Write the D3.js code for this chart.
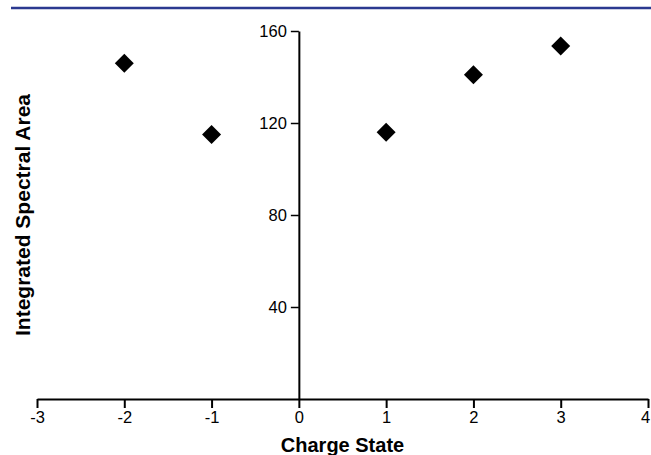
<!DOCTYPE html>
<html>
<head>
<meta charset="utf-8">
<script src="https://cdn.jsdelivr.net/npm/d3@7"></script>
<style>
  body { margin: 0; background: #fff; }
  svg { display: block; font-family: "Liberation Sans", Arial, sans-serif; }
</style>
</head>
<body>
<script>
// data
const charges = [-2, -1, 1, 2, 3];
const areas = [146, 115, 116, 141, 153.5];
const xTicks = [-3, -2, -1, 0, 1, 2, 3, 4];
const yTicks = [40, 80, 120, 160];

const width = 651, height = 455;

const svg = d3.select("body")
  .append("svg")
  .attr("width", width)
  .attr("height", height);

// header rule
svg.append("line")
  .attr("x1", 11).attr("x2", width)
  .attr("y1", 8).attr("y2", 8)
  .attr("stroke", "#2b3990")
  .attr("stroke-width", 2.5);

const x = d3.scaleLinear().domain([-3, 4]).range([37, 648]);
const y = d3.scaleLinear().domain([0, 160]).range([399, 31]);

// x axis
const xAxis = svg.append("g")
  .attr("transform", `translate(0,${y(0)})`)
  .call(d3.axisBottom(x).tickValues(xTicks).tickFormat(d => String(d))
    .tickSize(9).tickPadding(3).tickSizeOuter(0));
xAxis.select(".domain").attr("stroke-width", 2);
xAxis.selectAll(".tick line").attr("stroke-width", 2);
xAxis.selectAll("text").attr("font-size", 16.5).attr("fill", "#000");
// keep the last label inside the frame
xAxis.selectAll(".tick text").filter(d => d === 4).attr("dx", -3);

// y axis sits at charge 0
const yAxis = svg.append("g")
  .attr("transform", `translate(${x(0)},0)`)
  .call(d3.axisLeft(y).tickValues(yTicks).tickFormat(d => String(d))
    .tickSize(8).tickPadding(4).tickSizeOuter(0));
yAxis.select(".domain").attr("stroke-width", 2);
yAxis.selectAll(".tick line").attr("stroke-width", 1.5);
yAxis.selectAll("text").attr("font-size", 16.5).attr("fill", "#000");

// markers
svg.selectAll("path.pt")
  .data(charges.map((c, i) => [c, areas[i]]))
  .enter()
  .append("path")
  .attr("class", "pt")
  .attr("d", d3.symbol().type(d3.symbolDiamond2).size(230))
  .attr("transform", d => `translate(${x(d[0])},${y(d[1])})`)
  .attr("fill", "#000");

// axis titles
svg.append("text")
  .attr("x", (x(-3) + x(4)) / 2)
  .attr("y", 452)
  .attr("text-anchor", "middle")
  .attr("font-size", 20)
  .attr("font-weight", "bold")
  .text("Charge State");

svg.append("text")
  .attr("transform", `translate(30,${(y(0) + y(160)) / 2}) rotate(-90)`)
  .attr("text-anchor", "middle")
  .attr("font-size", 21)
  .attr("font-weight", "bold")
  .text("Integrated Spectral Area");
</script>
</body>
</html>
